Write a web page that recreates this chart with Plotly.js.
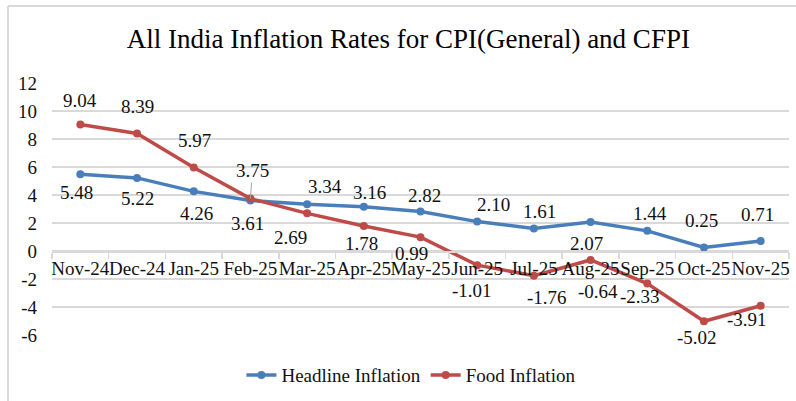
<!DOCTYPE html>
<html>
<head>
<meta charset="utf-8">
<script src="https://cdn.plot.ly/plotly-3.0.1.min.js"></script>
<style>
  html, body { margin: 0; padding: 0; background: #ffffff; }
  #chart { width: 796px; height: 401px; }
</style>
</head>
<body>
<div id="chart"></div>
<script>
// ---- data ----
const months = ['Nov-24','Dec-24','Jan-25','Feb-25','Mar-25','Apr-25','May-25','Jun-25','Jul-25','Aug-25','Sep-25','Oct-25','Nov-25'];
const headline = [5.48, 5.22, 4.26, 3.61, 3.34, 3.16, 2.82, 2.10, 1.61, 2.07, 1.44, 0.25, 0.71];
const food = [9.04, 8.39, 5.97, 3.75, 2.69, 1.78, 0.99, -1.01, -1.76, -0.64, -2.33, -5.02, -3.91];
const seriesNames = ['Headline Inflation', 'Food Inflation'];
const yTicks = [-6, -4, -2, 0, 2, 4, 6, 8, 10, 12];

// ---- label offsets (pixels: dx right, dy down) ----
const headlineDx = [-4, 0, 3, -3, 18, 6, 4, 16, 6, -4, 3, -2, -3];
const headlineDy = [18, 21, 22, 23, -18, -14, -16, -17, -17, 21, -17, -27, -27];
const foodDx = [0, 0, 1, 2, -17, -2, -9, -5, 13, 7, -7, -7, -14];
const foodDy = [-24, -27, -27, -28, 24, 17, 16, 25, 22, 32, 13, 16, 14];

const FONT = "'Liberation Serif', 'Times New Roman', Times, serif";
const BLUE = '#4a7ebb';
const RED = '#be4b48';
const GRID = '#d9d9d9';
const INK = '#111111';

function makeLabels(vals, dx, dy, leaderIdx) {
  return vals.map((v, i) => {
    const a = {
      x: months[i], y: v, xref: 'x', yref: 'y',
      text: v.toFixed(2),
      font: {family: FONT, size: 19, color: INK},
      xanchor: 'center', yanchor: 'middle'
    };
    if (i === leaderIdx) {
      a.showarrow = true; a.arrowhead = 0; a.arrowwidth = 1; a.arrowcolor = '#a6a6a6';
      a.ax = dx[i]; a.ay = dy[i]; a.standoff = 0;
    } else {
      a.showarrow = false; a.xshift = dx[i]; a.yshift = -dy[i];
    }
    return a;
  });
}

const traces = [
  {
    x: months, y: headline, type: 'scatter', mode: 'lines+markers',
    name: seriesNames[0],
    line: {color: BLUE, width: 3.5},
    marker: {color: BLUE, size: 8, symbol: 'circle'},
    hoverinfo: 'skip'
  },
  {
    x: months, y: food, type: 'scatter', mode: 'lines+markers',
    name: seriesNames[1],
    line: {color: RED, width: 3.5},
    marker: {color: RED, size: 8, symbol: 'circle'},
    hoverinfo: 'skip'
  }
];

const layout = {
  width: 796, height: 401,
  margin: {l: 52, r: 7, t: 83, b: 66, pad: 0},
  paper_bgcolor: '#ffffff', plot_bgcolor: '#ffffff',
  font: {family: FONT, size: 19, color: INK},
  title: {
    text: 'All India Inflation Rates for CPI(General) and CFPI',
    font: {family: FONT, size: 27, color: '#000000'},
    x: 0.513, xanchor: 'center', xref: 'container',
    y: 0.905, yanchor: 'middle', yref: 'container'
  },
  xaxis: {
    type: 'category', range: [-0.5, months.length - 0.5],
    anchor: 'free', position: 1/3,
    showline: true, linecolor: GRID, linewidth: 1.5,
    ticks: 'outside', ticklen: 6, tickcolor: GRID, tickwidth: 1.5,
    tickson: 'boundaries', tickangle: 0,
    showgrid: false, zeroline: false,
    tickfont: {family: FONT, size: 19, color: INK}
  },
  yaxis: {
    range: [-6, 12], tickvals: yTicks, ticktext: yTicks.map(String),
    showline: false, zeroline: false, ticks: '',
    showgrid: true, gridcolor: GRID, gridwidth: 1.2,
    ticklabelstandoff: 14,
    tickfont: {family: FONT, size: 19, color: INK}
  },
  showlegend: true,
  legend: {
    orientation: 'h', x: 0.487, xanchor: 'center', y: -0.159, yanchor: 'middle',
    font: {family: FONT, size: 19, color: INK},
    bgcolor: 'rgba(0,0,0,0)'
  },
  shapes: [
    {type: 'line', xref: 'paper', yref: 'paper', x0: -0.0597, x1: 1.02, y0: 1.3056, y1: 1.3056,
     line: {color: GRID, width: 2}, layer: 'below'},
    {type: 'line', xref: 'paper', yref: 'paper', x0: -0.0597, x1: -0.0597, y0: 1.3056, y1: -0.3,
     line: {color: GRID, width: 2}, layer: 'below'}
  ],
  annotations: makeLabels(headline, headlineDx, headlineDy, -1)
    .concat(makeLabels(food, foodDx, foodDy, 3))
};

Plotly.newPlot('chart', traces, layout, {staticPlot: true, displayModeBar: false});
</script>
</body>
</html>
